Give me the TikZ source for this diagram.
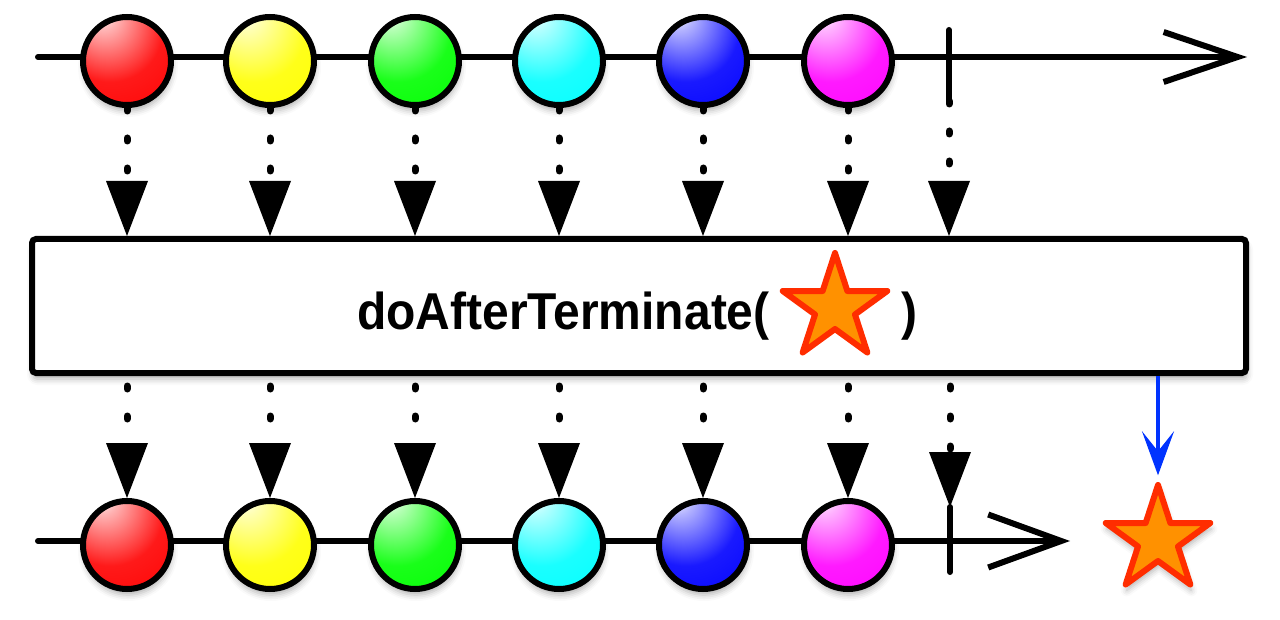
\documentclass[tikz,border=0pt]{standalone}
\usepackage{fontspec}
\setmainfont{Liberation Sans}
\usetikzlibrary{arrows.meta,shapes.geometric,shadows.blur,backgrounds}
\definecolor{starfill}{RGB}{255,145,0}
\definecolor{starline}{RGB}{255,45,0}
\definecolor{arrowblue}{RGB}{0,51,255}
\colorlet{ballc}{red}
\pgfdeclareradialshading[ballc]{marble}{\pgfpoint{-15bp}{28bp}}{%
  color(0bp)=(white);
  color(8bp)=(ballc!30!white);
  color(30bp)=(ballc!90!white);
  color(55bp)=(ballc);
  color(72bp)=(ballc!80!black);
  color(85bp)=(ballc!55!black)}
\begin{document}
\begin{tikzpicture}[x=1pt,y=-1pt,
  softshadow/.style={blur shadow={shadow xshift=1pt, shadow yshift=-6pt, shadow blur radius=6pt, shadow opacity=30}},
  ball/.style={circle, draw=black, line width=6pt, minimum size=88pt, inner sep=0pt, shading=marble, softshadow},
  axis/.style={line width=6pt, line cap=round},
  flow/.style={line width=7pt, line cap=round, dash pattern=on 3pt off 27pt, -{Triangle[length=55pt,width=42pt,line width=0pt]}},
  tickmark/.style={line width=6pt, line cap=round},
  starnode/.style={star, star points=5, star point ratio=2.618, minimum size=110pt, inner sep=0pt, draw=starline, fill=starfill, line width=6pt, line join=round},
  label/.style={anchor=base west, inner sep=0pt, font=\fontsize{48pt}{48pt}\selectfont\bfseries},
]
\useasboundingbox (0,0) rectangle (1280,620);

% operator box
\node[draw=black, fill=white, line width=6pt, minimum width=1214pt, minimum height=134pt, inner sep=0pt, rounded corners=4pt, softshadow] (box) at (639,306) {};
\node[label] (lbl) at (357,330) {\scalebox{1}[1.08]{doAfterTerminate(}};
\node[starnode] (s1) at (835,308) {};
\node[label] (rp) at (901,330) {\scalebox{1}[1.08]{)}};

% marbles
\foreach \x/\c [count=\i] in {127/red,270/yellow,415/green,559/cyan,703/blue,848/magenta} {
  \colorlet{ballc}{\c}
  \node[ball] (a\i) at (\x,61) {};
  \node[ball] (b\i) at (\x,545) {};
}

% result star
\node[starnode, softshadow] (s2) at (1158,540) {};

% axes and connectors
\coordinate (ts) at (38,57);
\coordinate (te) at (1247,57);
\coordinate (bs) at (38,541);
\coordinate (be) at (1070,541);
\coordinate (tt1) at (949,30);
\coordinate (tt2) at (949,101);
\coordinate (bt1) at (950,507);
\coordinate (bt2) at (950,572);

\begin{scope}[on background layer]
  \draw[axis, -{Straight Barb[length=74pt,width=50pt]}] (ts) -- (te);
  \draw[axis, -{Straight Barb[length=73pt,width=53pt]}] (bs) -- (be);
  \foreach \i in {1,...,6} {
    \draw[flow] (a\i.south) -- (a\i.south |- box.north);
    \draw[flow, dash phase=20pt] (a\i |- box.south) -- (b\i.north);
  }
  \draw[flow] (tt2) -- (tt2 |- box.north);
  \draw[flow, dash phase=20pt] (bt1 |- box.south) -- (bt1);
\end{scope}
\draw[tickmark] (tt1) -- (tt2);
\draw[tickmark] (bt1) -- (bt2);
\draw[line width=4.5pt, arrowblue, -{Stealth[length=44pt,width=32pt,inset=20pt]}] (s2.north |- box.south) -- (s2.north);
\end{tikzpicture}
\end{document}
